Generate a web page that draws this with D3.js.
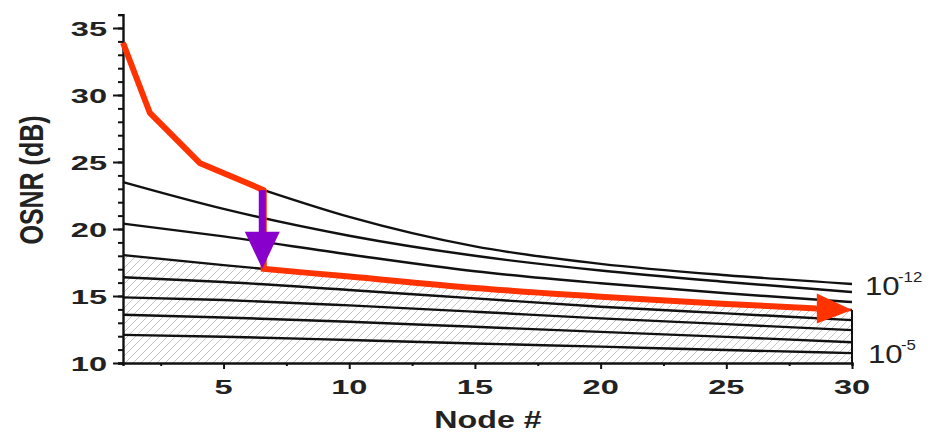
<!DOCTYPE html>
<html>
<head>
<meta charset="utf-8">
<script src="https://cdn.jsdelivr.net/npm/d3@7"></script>
<style>
  body { margin: 0; background: #fff; }
  svg text { font-family: "Liberation Sans", Arial, sans-serif; }
</style>
</head>
<body>
<svg id="chart" width="931" height="433"></svg>
<script>
// node numbers where the BER curves were read
const nodes = [1, 5, 10, 15, 20, 25, 30];
// top curve (BER 1e-12) only visible right of the purple arrow
const topNodes = [6.6, 10, 15, 20, 25, 30];
const osnrBer12 = [22.9, 20.9, 18.7, 17.4, 16.55, 15.9];
const osnrBer11 = [23.5, 21.5, 19.5, 18.0, 16.9, 16.05, 15.3];
const osnrBer10 = [20.4, 19.45, 18.1, 16.85, 15.95, 15.2, 14.55];
const osnrBer9 = [18.05, 17.3, 16.45, 15.6, 14.95, 14.4, 13.95];
const osnrBer8 = [16.4, 16.05, 15.45, 14.82, 14.2, 13.7, 13.2];
const osnrBer7 = [14.9, 14.7, 14.3, 13.83, 13.33, 12.9, 12.45];
const osnrBer6 = [13.6, 13.4, 13.08, 12.7, 12.32, 11.95, 11.55];
const osnrBer5 = [12.1, 11.96, 11.72, 11.46, 11.22, 10.97, 10.74];
// red path, first leg
const redNodes = [1, 2.07, 4.07, 6.6];
const redOsnr = [33.9, 28.66, 24.9, 22.9];
const dropNode = 6.6;
const dropFrom = 22.9;
const dropTo = 17.03;
const arrowBaseNode = 28.6;

const xTicks = [5, 10, 15, 20, 25, 30];
const xMinor = [2.5, 7.5, 12.5, 17.5, 22.5, 27.5];
const yTicks = [10, 15, 20, 25, 30, 35];
const yMinor = d3.range(10, 37, 1);

const red = '#ff3300';
const purple = '#8800cc';

const svg = d3.select('#chart');
const x = d3.scaleLinear().domain([1, 30]).range([123, 852]);
const y = d3.scaleLinear().domain([10, 36]).range([363, 14.6]);

const line = d3.line()
  .x(d => x(d[0]))
  .y(d => y(d[1]))
  .curve(d3.curveMonotoneX);

const lower = [osnrBer11, osnrBer10, osnrBer9, osnrBer8, osnrBer7, osnrBer6, osnrBer5]
  .map(vals => nodes.map((n, i) => [n, vals[i]]));
const top12 = topNodes.map((n, i) => [n, osnrBer12[i]]);
const hatchEdge = nodes.map((n, i) => [n, osnrBer9[i]]);

// hatch pattern
const defs = svg.append('defs');
defs.append('pattern')
  .attr('id', 'hatch')
  .attr('patternUnits', 'userSpaceOnUse')
  .attr('width', 8)
  .attr('height', 8)
  .append('path')
  .attr('d', 'M-2,2 l4,-4 M0,8 l8,-8 M6,10 l4,-4')
  .attr('stroke', '#c4c4c4')
  .attr('stroke-width', 1);

defs.append('clipPath')
  .attr('id', 'redclip')
  .append('rect')
  .attr('x', x(dropNode) - 3)
  .attr('y', 0)
  .attr('width', x(arrowBaseNode) - x(dropNode) + 3)
  .attr('height', 433);

svg.append('path')
  .attr('d', d3.area()
    .x(d => x(d[0]))
    .y0(y(10))
    .y1(d => y(d[1]))
    .curve(d3.curveMonotoneX)(hatchEdge))
  .attr('fill', 'url(#hatch)');

svg.append('line')
  .attr('x1', x(30)).attr('x2', x(30))
  .attr('y1', y(osnrBer9[osnrBer9.length - 1]))
  .attr('y2', y(10))
  .attr('stroke', '#111')
  .attr('stroke-width', 2);

svg.selectAll('path.ber')
  .data([top12].concat(lower))
  .enter()
  .append('path')
  .attr('class', 'ber')
  .attr('d', line)
  .attr('fill', 'none')
  .attr('stroke', '#111')
  .attr('stroke-width', 2.4);

// axes
const yAxis = svg.append('g')
  .attr('transform', `translate(${x(1)},0)`)
  .call(d3.axisLeft(y).tickValues(yMinor).tickSize(5).tickFormat(''));
yAxis.append('g')
  .call(d3.axisLeft(y).tickValues(yTicks).tickSize(10).tickFormat(''));
const xAxis = svg.append('g')
  .attr('transform', `translate(0,${y(10)})`)
  .call(d3.axisBottom(x).tickValues(xMinor).tickSize(3).tickFormat(''));
xAxis.append('g')
  .call(d3.axisBottom(x).tickValues(xTicks).tickSize(6).tickFormat(''));
svg.selectAll('.domain').attr('stroke', '#111').attr('stroke-width', 2.4);
svg.selectAll('.tick line').attr('stroke', '#111').attr('stroke-width', 2);
svg.selectAll('g .domain').filter((d, i, n) => n[i].parentNode.parentNode !== svg.node())
  .remove();

svg.selectAll('text.ylab')
  .data(yTicks)
  .enter()
  .append('text')
  .attr('class', 'ylab')
  .attr('transform', d => `translate(107,${y(d)}) scale(1.55,1)`)
  .attr('dy', '0.36em')
  .attr('text-anchor', 'end')
  .attr('font-size', 21)
  .attr('font-weight', 'bold')
  .attr('fill', '#222')
  .text(d => d);

svg.selectAll('text.xlab')
  .data(xTicks)
  .enter()
  .append('text')
  .attr('class', 'xlab')
  .attr('transform', d => `translate(${x(d)},394) scale(1.55,1)`)
  .attr('text-anchor', 'middle')
  .attr('font-size', 21)
  .attr('font-weight', 'bold')
  .attr('fill', '#222')
  .text(d => d);

svg.append('text')
  .attr('transform', 'translate(488,428) scale(1.4,1)')
  .attr('text-anchor', 'middle')
  .attr('font-size', 23)
  .attr('font-weight', 'bold')
  .attr('fill', '#222')
  .text('Node #');

svg.append('text')
  .attr('transform', 'translate(43,180) scale(1.3,1) rotate(-90)')
  .attr('text-anchor', 'middle')
  .attr('font-size', 25)
  .attr('font-weight', 'bold')
  .attr('fill', '#222')
  .text('OSNR (dB)');

// BER labels
function berLabel(x0, base, exp) {
  svg.append('text')
    .attr('transform', `translate(${x0},${base}) scale(1.2,1)`)
    .attr('font-size', 26)
    .attr('fill', '#222')
    .text('10');
  svg.append('text')
    .attr('transform', `translate(${x0 + 33},${base - 13}) scale(1.2,1)`)
    .attr('font-size', 14)
    .attr('fill', '#222')
    .text(exp);
}
berLabel(865, 295, '-12');
berLabel(868, 363, '-5');

// red path: first leg and the drop
svg.append('path')
  .attr('d', d3.line()(redNodes.map((n, i) => [x(n), y(redOsnr[i])])
    .concat([[x(dropNode), y(dropTo)]])))
  .attr('fill', 'none')
  .attr('stroke', red)
  .attr('stroke-width', 6)
  .attr('stroke-linejoin', 'round');

// red path: second leg along the hatch edge
svg.append('path')
  .attr('d', line(hatchEdge))
  .attr('clip-path', 'url(#redclip)')
  .attr('fill', 'none')
  .attr('stroke', red)
  .attr('stroke-width', 6);

const tipY = y(osnrBer9[osnrBer9.length - 1]);
const baseY = y(14.07);
svg.append('path')
  .attr('d', `M${x(arrowBaseNode)},${baseY - 15}L${x(30)},${tipY}L${x(arrowBaseNode)},${baseY + 15}Z`)
  .attr('fill', red);

// purple drop arrow
const headTop = y(19.8);
svg.append('rect')
  .attr('x', x(dropNode) - 5)
  .attr('y', y(dropFrom))
  .attr('width', 7)
  .attr('height', headTop - y(dropFrom) + 1)
  .attr('fill', purple);
svg.append('path')
  .attr('d', `M${x(dropNode) - 19},${headTop}L${x(dropNode) + 16},${headTop}L${x(dropNode) - 1.5},${y(dropTo)}Z`)
  .attr('fill', purple);
</script>
</body>
</html>
